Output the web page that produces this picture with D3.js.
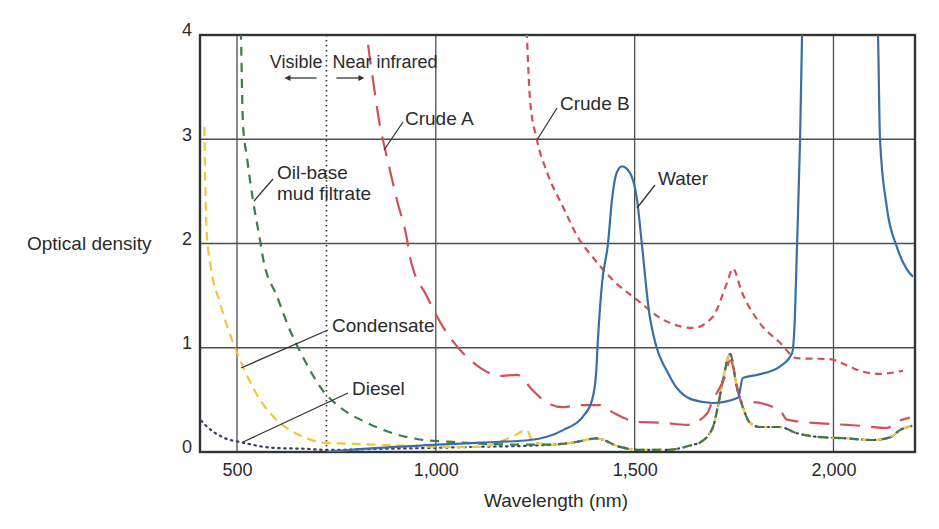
<!DOCTYPE html>
<html>
<head>
<meta charset="utf-8">
<script src="https://cdn.jsdelivr.net/npm/d3@7"></script>
<style>
  body { margin: 0; background: #fff; }
  text { font-family: "Liberation Sans Narrow", "Arial Narrow", "Liberation Sans", sans-serif; fill: #2b2b2b; }
</style>
</head>
<body>
<div id="chart"></div>
<script>
// wavelength (nm) / optical density pairs
var water = [[726,0.0],[817,0.03],[1003,0.07],[1111,0.09],[1237,0.115],[1320,0.21],[1370,0.34],[1393,0.5],
  [1403,0.75],[1408,1.1],[1418,1.62],[1433,2.0],[1443,2.42],[1455,2.68],[1468,2.74],[1488,2.68],[1506,2.42],
  [1518,2.0],[1538,1.3],[1589,0.72],[1647,0.5],[1697,0.47],[1760,0.52],[1772,0.71],[1808,0.74],[1865,0.82],
  [1896,0.95],[1903,1.3],[1908,1.94],[1916,3.0],[1921,4.0],[1925,4.6],[2105,4.6],[2112,4.0],[2117,3.0],
  [2134,2.35],[2160,1.96],[2185,1.75],[2200,1.68]];
var crudeB = [[1224,4.5],[1229,4.0],[1237,3.38],[1254,3.0],[1280,2.68],[1320,2.35],[1362,2.03],[1388,1.9],
  [1445,1.65],[1506,1.46],[1571,1.27],[1647,1.19],[1697,1.3],[1732,1.62],[1747,1.76],[1770,1.53],[1808,1.27],
  [1865,1.05],[1908,0.9],[1991,0.89],[2034,0.83],[2074,0.77],[2117,0.75],[2175,0.78]];
var crudeA = [[815,4.5],[827,4.0],[842,3.57],[860,3.12],[877,2.83],[902,2.42],[927,2.05],[935,1.87],[978,1.49],
  [1018,1.2],[1068,0.95],[1111,0.81],[1161,0.73],[1204,0.74],[1244,0.59],[1280,0.47],[1320,0.43],[1362,0.45],
  [1413,0.45],[1445,0.38],[1506,0.29],[1571,0.28],[1632,0.26],[1682,0.37],[1697,0.5],[1727,0.72],[1740,0.88],
  [1770,0.48],[1790,0.48],[1865,0.4],[1883,0.31],[1948,0.28],[2034,0.26],[2074,0.25],[2134,0.23],[2160,0.29],[2192,0.33]];
// light hydrocarbons share the same NIR trace
var lightTail = [[1290,0.07],[1344,0.09],[1405,0.13],[1462,0.05],[1513,0.02],[1581,0.02],[1647,0.07],[1664,0.09],
  [1697,0.24],[1709,0.43],[1722,0.69],[1740,0.94],[1757,0.62],[1772,0.43],[1790,0.28],[1815,0.24],[1865,0.24],
  [1908,0.18],[1948,0.15],[2034,0.13],[2099,0.115],[2142,0.14],[2167,0.21],[2198,0.25]];
var mudFiltrate = [[507,4.5],[510,4.0],[515,3.15],[525,2.83],[540,2.42],[558,2.03],[565,1.87],[601,1.49],[633,1.17],
  [666,0.91],[716,0.59],[759,0.43],[827,0.28],[892,0.18],[960,0.12],[1028,0.1],[1111,0.08],[1237,0.07]].concat(lightTail);
var condensate = [[418,3.12],[420,2.6],[424,2.1],[434,1.78],[458,1.42],[490,1.05],[515,0.82],[558,0.5],[608,0.28],
  [658,0.16],[716,0.09],[776,0.08],[859,0.07],[1010,0.05],[1111,0.05],[1193,0.15],[1229,0.21],[1244,0.1]].concat(lightTail);
var diesel = [[410,0.3],[420,0.26],[465,0.14],[515,0.09],[590,0.04],[676,0.03],[726,0.02],[860,0.03],[1000,0.04],
  [1111,0.05],[1237,0.06]].concat(lightTail);

var xTicks = [500, 1000, 1500, 2000];
var yTicks = [0, 1, 2, 3, 4];
var visibleLimit = 725;

var width = 939, height = 529;
var plotL = 200, plotR = 915, plotT = 35, plotB = 452;

var svg = d3.select("#chart").append("svg")
  .attr("width", width).attr("height", height);

var x = d3.scaleLinear().domain([407, 2205]).range([plotL, plotR]);
var y = d3.scaleLinear().domain([0, 4]).range([plotB, plotT]);

svg.append("defs").append("clipPath").attr("id", "plot")
  .append("rect").attr("x", plotL).attr("y", plotT).attr("width", plotR - plotL).attr("height", plotB - plotT);

// grid
svg.append("g").selectAll("line").data(xTicks).join("line")
  .attr("x1", d => x(d)).attr("x2", d => x(d)).attr("y1", plotT).attr("y2", plotB)
  .attr("stroke", "#4a4f4f").attr("stroke-width", 1.3);
svg.append("g").selectAll("line").data(yTicks.slice(1, 4)).join("line")
  .attr("x1", plotL).attr("x2", plotR).attr("y1", d => y(d)).attr("y2", d => y(d))
  .attr("stroke", "#4a4f4f").attr("stroke-width", 1.3);

// visible / NIR divider
svg.append("line")
  .attr("x1", x(visibleLimit)).attr("x2", x(visibleLimit)).attr("y1", plotT).attr("y2", plotB)
  .attr("stroke", "#333").attr("stroke-width", 1.6).attr("stroke-dasharray", "1.5,3.5");

// frame
svg.append("rect").attr("x", plotL).attr("y", plotT).attr("width", plotR - plotL).attr("height", plotB - plotT)
  .attr("fill", "none").attr("stroke", "#2f3434").attr("stroke-width", 2.4);

// axes
var xAxis = svg.append("g").attr("transform", "translate(0," + plotB + ")")
  .call(d3.axisBottom(x).tickValues(xTicks).tickSize(0).tickPadding(11).tickFormat(d3.format(",")));
xAxis.select(".domain").remove();
xAxis.selectAll("text").style("font-size", "18px");

var yAxis = svg.append("g").attr("transform", "translate(" + plotL + ",0)")
  .call(d3.axisLeft(y).tickValues(yTicks).tickSize(0).tickPadding(8).tickFormat(d3.format("d")));
yAxis.select(".domain").remove();
yAxis.selectAll("text").style("font-size", "18px").attr("dy", "0.05em");

svg.append("text").attr("x", 27).attr("y", 250).style("font-size", "19px").text("Optical density");
svg.append("text").attr("x", 556).attr("y", 507).attr("text-anchor", "middle").style("font-size", "19px").text("Wavelength (nm)");

// curves
var line = d3.line().curve(d3.curveMonotoneX).x(d => x(d[0])).y(d => y(d[1]));
var curves = svg.append("g").attr("clip-path", "url(#plot)");
var series = [
  { data: diesel, color: "#3a3f5c", dash: "1.5,4.5", width: 2.2, cap: "round" },
  { data: condensate, color: "#f2c53d", dash: "9,6", width: 2.2, cap: "butt" },
  { data: mudFiltrate, color: "#3f7a4c", dash: "9,7", width: 2.2, cap: "butt" },
  { data: crudeA, color: "#d2505a", dash: "20,11", width: 2.2, cap: "butt" },
  { data: crudeB, color: "#d2505a", dash: "7,5", width: 2.2, cap: "butt" },
  { data: water, color: "#3a6fa6", dash: null, width: 2.2, cap: "butt" }
];
series.forEach(function(s) {
  curves.append("path").datum(s.data)
    .attr("d", line).attr("fill", "none")
    .attr("stroke", s.color).attr("stroke-width", s.width)
    .attr("stroke-dasharray", s.dash).attr("stroke-linecap", s.cap);
});

// annotations
var ann = svg.append("g");
function label(tx, ty, str, lx1, ly1, lx2, ly2) {
  ann.append("text").attr("x", tx).attr("y", ty).style("font-size", "19px").text(str);
  if (lx1 != null) {
    ann.append("line").attr("x1", lx1).attr("y1", ly1).attr("x2", lx2).attr("y2", ly2)
      .attr("stroke", "#333").attr("stroke-width", 1.3);
  }
}
label(405, 125, "Crude A", 403, 122, 384, 150);
label(560, 110, "Crude B", 557, 108, 537, 140);
label(277, 179, "Oil-base", 273, 179, 254, 201);
label(277, 200, "mud filtrate");
label(658, 185, "Water", 655, 185, 637, 208);
label(332, 332, "Condensate", 328, 330, 241, 368);
label(352, 395, "Diesel", 348, 393, 243, 442);

var vx = x(visibleLimit);
ann.append("text").attr("x", vx - 4).attr("y", 68).attr("text-anchor", "end").style("font-size", "18px").text("Visible");
ann.append("text").attr("x", vx + 6).attr("y", 68).style("font-size", "18px").text("Near infrared");
ann.append("line").attr("x1", vx - 10).attr("x2", vx - 40).attr("y1", 78).attr("y2", 78).attr("stroke", "#333").attr("stroke-width", 1.3);
ann.append("path").attr("d", "M" + (vx - 42) + ",78 l6,-3 l0,6 z").attr("fill", "#333");
ann.append("line").attr("x1", vx + 10).attr("x2", vx + 36).attr("y1", 78).attr("y2", 78).attr("stroke", "#333").attr("stroke-width", 1.3);
ann.append("path").attr("d", "M" + (vx + 38) + ",78 l-6,-3 l0,6 z").attr("fill", "#333");
</script>
</body>
</html>
